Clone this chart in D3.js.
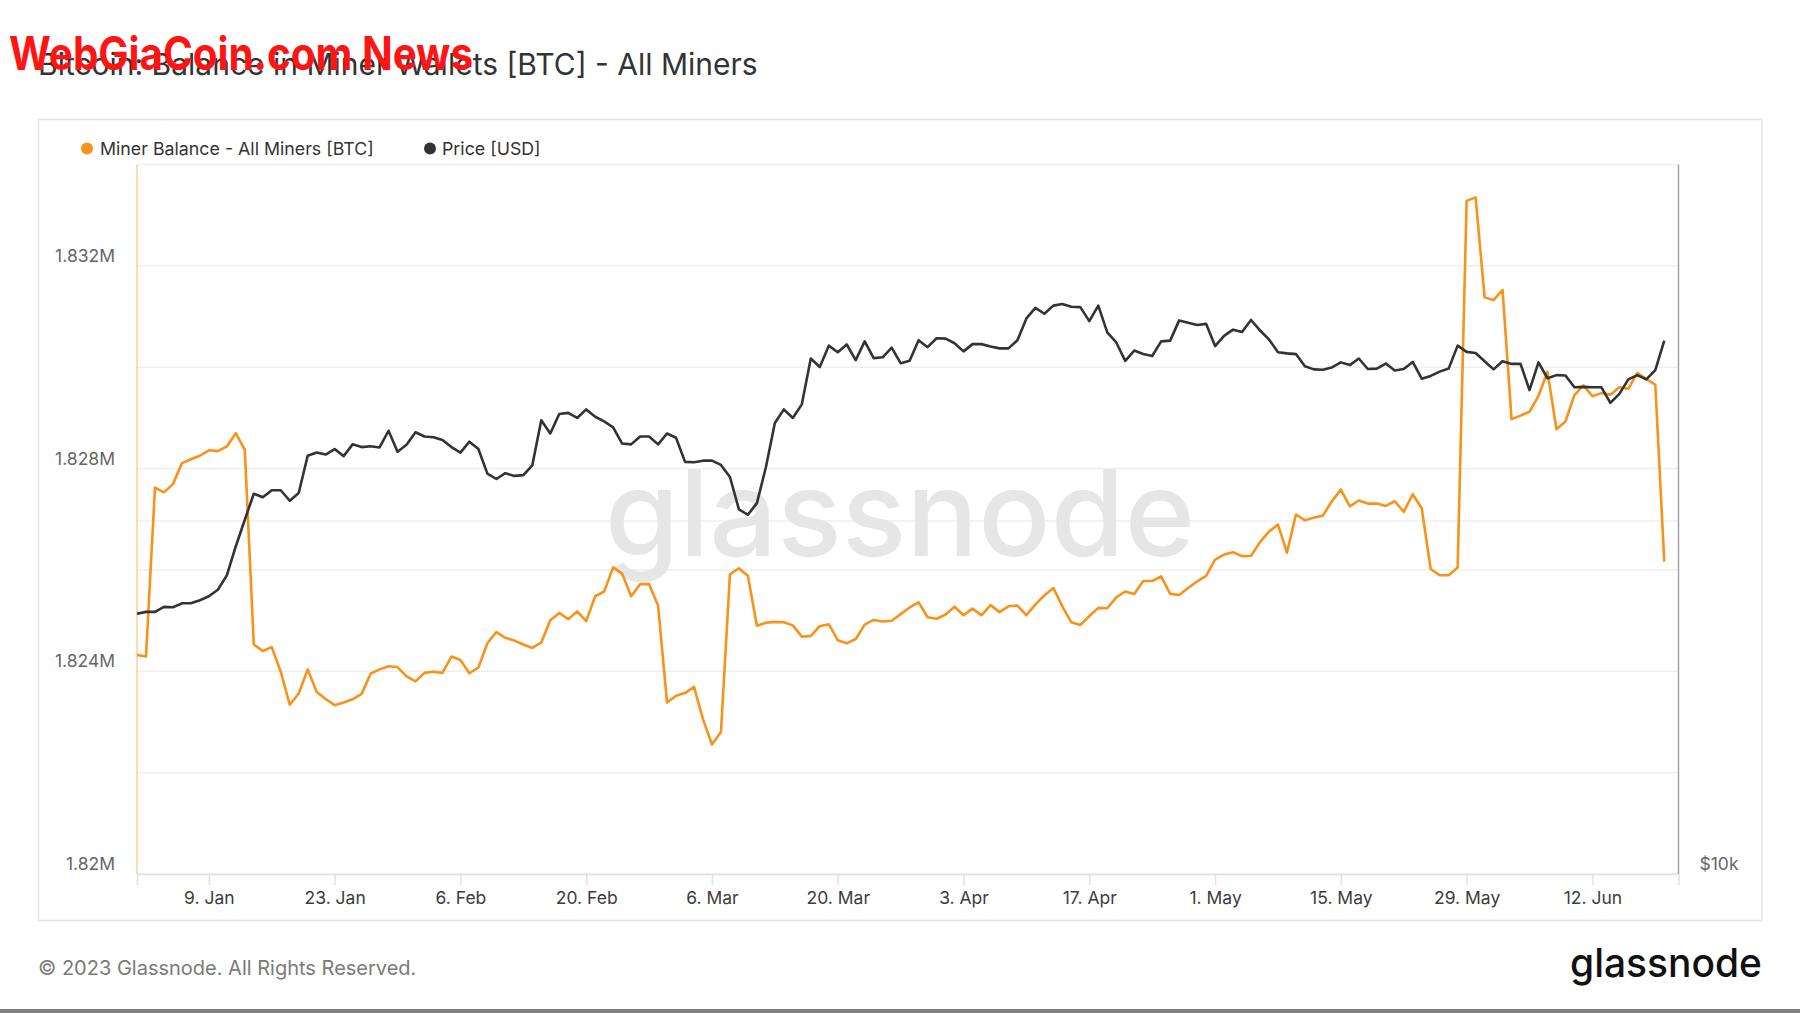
<!DOCTYPE html>
<html>
<head>
<meta charset="utf-8">
<script src="https://cdn.jsdelivr.net/npm/d3@7"></script>
<style>
  html, body { margin: 0; padding: 0; background: #fff; }
  svg { display: block; }
  text { font-family: Inter, "Open Sans", "DejaVu Sans", sans-serif; }
</style>
</head>
<body>
<svg id="chart" width="1800" height="1013"></svg>
<script>
// ---------------- DATA ----------------
const startDate = "2023-01-01"; // first daily observation
const minerBalance = [
  1824322,1824291,1827624,1827531,1827693,1828107,1828184,1828253,1828361,1828345,
  1828437,1828698,1828368,1824529,1824399,1824476,1823992,1823339,1823562,1824038,
  1823593,1823454,1823332,1823385,1823447,1823554,1823953,1824038,1824099,1824084,
  1823900,1823800,1823969,1823992,1823969,1824291,1824222,1823961,1824076,1824552,
  1824775,1824660,1824606,1824529,1824460,1824568,1825005,1825151,1825028,1825182,
  1824990,1825481,1825574,1826050,1825927,1825481,1825719,1825719,1825297,1823385,
  1823516,1823570,1823692,1823055,1822556,1822802,1825911,1826034,1825881,1824898,
  1824959,1824975,1824967,1824906,1824683,1824698,1824890,1824929,1824614,1824552,
  1824637,1824921,1825013,1824982,1824998,1825128,1825259,1825359,1825067,1825036,
  1825121,1825274,1825105,1825236,1825105,1825305,1825167,1825282,1825297,1825105,
  1825320,1825497,1825643,1825282,1824967,1824913,1825090,1825251,1825243,1825458,
  1825574,1825527,1825781,1825781,1825873,1825527,1825504,1825643,1825773,1825881,
  1826203,1826303,1826349,1826272,1826280,1826549,1826756,1826894,1826341,1827094,
  1826979,1827032,1827071,1827355,1827585,1827255,1827370,1827309,1827309,1827263,
  1827355,1827147,1827493,1827217,1826019,1825896,1825896,1826050,1833282,1833351,
  1831378,1831324,1831524,1828975,1829044,1829121,1829436,1829912,1828775,1828929,
  1829451,1829643,1829428,1829489,1829459,1829605,1829574,1829889,1829766,1829658,
  1826165
];
const priceUsd = [
  16666,16730,16730,16896,16884,17014,17014,17118,17250,17474,
  17974,19032,20046,21098,20954,21242,21242,20810,21130,22734,
  22874,22786,23032,22716,23246,23122,23158,23106,23876,22910,
  23228,23804,23606,23570,23444,23122,22874,23368,23032,21950,
  21718,21966,21850,21884,22310,24372,23748,24672,24728,24484,
  24898,24540,24316,24038,23282,23246,23606,23606,23246,23748,
  23552,22462,22444,22514,22514,22326,21802,20464,20245,20714,
  22222,24242,24898,24484,25146,27514,27056,28218,27854,28282,
  27430,28456,27536,27578,28110,27262,27388,28522,28132,28632,
  28610,28350,27902,28302,28302,28172,28066,28066,28522,29766,
  30386,30040,30526,30618,30454,30432,29608,30526,28960,28394,
  27388,27946,27754,27648,28456,28496,29652,29518,29384,29452,
  28194,28764,29118,28984,29676,29072,28566,27854,27792,27754,
  27098,26934,26914,27038,27306,27160,27514,26954,26974,27244,
  26872,26954,27328,26448,26590,26814,26974,28218,27876,27814,
  27370,26934,27370,27224,27224,25858,27306,26468,26632,26612,
  26002,26022,26002,26002,25222,25668,26408,26632,26408,26892,
  28496
];
const xTickDates = ["2023-01-09","2023-01-23","2023-02-06","2023-02-20","2023-03-06","2023-03-20",
                    "2023-04-03","2023-04-17","2023-05-01","2023-05-15","2023-05-29","2023-06-12"];
const xTickLabels = ["9. Jan","23. Jan","6. Feb","20. Feb","6. Mar","20. Mar",
                     "3. Apr","17. Apr","1. May","15. May","29. May","12. Jun"];
const leftGridValues = [1820000,1822000,1824000,1826000,1828000,1830000,1832000,1834000];
const leftTickValues = [1820000,1824000,1828000,1832000];
const leftTickLabels = ["1.82M","1.824M","1.828M","1.832M"];
const rightGridValues = [20000];
const rightTickValues = [10000];
const rightTickLabels = ["$10k"];
const seriesNames = ["Miner Balance - All Miners [BTC]", "Price [USD]"];
const titleText = "Bitcoin: Balance in Miner Wallets [BTC] - All Miners";
const footerText = "\u00A9 2023 Glassnode. All Rights Reserved.";
const overlayText = "WebGiaCoin.com News";

// ---------------- LAYOUT ----------------
const W = 1800, H = 1013;
const plot = { left: 137, right: 1678.5, top: 164.5, bottom: 874 };
const ORANGE = "#f7931a", DARK = "#333333";
const AXIS_FONT = 17.5;

const svg = d3.select("#chart");
svg.append("rect").attr("width", W).attr("height", H).attr("fill", "#fff");

const parse = d3.utcParse("%Y-%m-%d");
const t0 = parse(startDate);
const dates = minerBalance.map((_, i) => d3.utcDay.offset(t0, i));

const x = d3.scaleUtc()
  .domain([t0, new Date(Date.UTC(2023, 5, 21, 14))])
  .range([plot.left, plot.right]);
const yL = d3.scaleLinear().domain([1820000, 1834000]).range([plot.bottom, plot.top]);
const yR = d3.scaleLog().domain([10000, 40270]).range([plot.bottom, plot.top]);

// title
svg.append("text").attr("x", 38).attr("y", 75)
  .attr("font-size", 30).attr("fill", "#333").text(titleText);

// panel
svg.append("rect").attr("x", 38.5).attr("y", 119.5).attr("width", 1723.5).attr("height", 801)
  .attr("fill", "none").attr("stroke", "#e3e3e3").attr("stroke-width", 1.5);

// legend
const legend = svg.append("g");
const legendItems = [
  { name: seriesNames[0], color: ORANGE, cx: 87, tx: 100 },
  { name: seriesNames[1], color: DARK, cx: 430, tx: 442 }
];
legendItems.forEach(it => {
  legend.append("circle").attr("cx", it.cx).attr("cy", 148.5).attr("r", 6).attr("fill", it.color);
  legend.append("text").attr("x", it.tx).attr("y", 154.8).attr("font-size", 17.8)
    .attr("fill", "#333").text(it.name);
});

// gridlines
const grid = svg.append("g");
grid.selectAll("line.gl").data(leftGridValues).join("line")
  .attr("x1", plot.left).attr("x2", plot.right)
  .attr("y1", d => yL(d)).attr("y2", d => yL(d))
  .attr("stroke", "#efefef").attr("stroke-width", 1.5);
grid.selectAll("line.gr").data(rightGridValues).join("line")
  .attr("x1", plot.left).attr("x2", plot.right)
  .attr("y1", d => yR(d)).attr("y2", d => yR(d))
  .attr("stroke", "#efefef").attr("stroke-width", 1.5);

// watermark
svg.append("text").attr("x", 900).attr("y", 556).attr("text-anchor", "middle")
  .attr("font-size", 120).attr("font-weight", 500).attr("fill", "#e6e6e6")
  .attr("textLength", 590).attr("lengthAdjust", "spacingAndGlyphs")
  .text("glassnode");

// x axis
const xAxis = d3.axisBottom(x)
  .tickValues(xTickDates.map(parse))
  .tickFormat((d, i) => xTickLabels[i])
  .tickSize(11).tickPadding(7);
const gx = svg.append("g").attr("transform", `translate(0,${plot.bottom})`).call(xAxis);
gx.select(".domain").attr("stroke", "#e0e0e0").attr("stroke-width", 1.5);
gx.selectAll(".tick line").attr("stroke", "#e0e0e0").attr("stroke-width", 1.5);
gx.selectAll(".tick text").attr("font-size", AXIS_FONT).attr("fill", "#3c3c3c")
  .attr("font-family", "Inter, 'Open Sans', sans-serif");

// left axis
const yAxisL = d3.axisLeft(yL).tickValues(leftTickValues)
  .tickFormat((d, i) => leftTickLabels[i]).tickSize(0).tickPadding(22);
const gyl = svg.append("g").attr("transform", `translate(${plot.left},0)`).call(yAxisL);
gyl.select(".domain").remove();
gyl.selectAll(".tick text").attr("font-size", AXIS_FONT).attr("fill", "#666")
  .attr("dy", "-0.25em").attr("font-family", "Inter, 'Open Sans', sans-serif");

// right axis
const yAxisR = d3.axisRight(yR).tickValues(rightTickValues)
  .tickFormat((d, i) => rightTickLabels[i]).tickSize(0).tickPadding(21);
const gyr = svg.append("g").attr("transform", `translate(${plot.right},0)`).call(yAxisR);
gyr.select(".domain").remove();
gyr.selectAll(".tick text").attr("font-size", AXIS_FONT).attr("fill", "#666")
  .attr("dy", "-0.25em").attr("font-family", "Inter, 'Open Sans', sans-serif");

// axis lines
svg.append("line").attr("x1", plot.left).attr("x2", plot.left)
  .attr("y1", plot.top).attr("y2", plot.bottom)
  .attr("stroke", ORANGE).attr("stroke-opacity", 0.55).attr("stroke-width", 1.2);
svg.append("line").attr("x1", plot.right).attr("x2", plot.right)
  .attr("y1", plot.top).attr("y2", plot.bottom)
  .attr("stroke", "#a8a8a8").attr("stroke-width", 1.5);

// series
const lineL = d3.line().x((d, i) => x(dates[i])).y(d => yL(d));
const lineR = d3.line().x((d, i) => x(dates[i])).y(d => yR(d));
svg.append("path").datum(minerBalance).attr("d", lineL)
  .attr("fill", "none").attr("stroke", ORANGE).attr("stroke-width", 2.6)
  .attr("stroke-linejoin", "round");
svg.append("path").datum(priceUsd).attr("d", lineR)
  .attr("fill", "none").attr("stroke", DARK).attr("stroke-width", 2.6)
  .attr("stroke-linejoin", "round");

// footer
svg.append("text").attr("x", 38).attr("y", 975).attr("font-size", 20)
  .attr("fill", "#7a7a7a").text(footerText);
svg.append("text").attr("x", 1762).attr("y", 977).attr("text-anchor", "end")
  .attr("font-size", 40).attr("font-weight", 500).attr("fill", "#111")
  .attr("textLength", 192).attr("lengthAdjust", "spacingAndGlyphs")
  .text("glassnode");
svg.append("rect").attr("x", 0).attr("y", 1009).attr("width", W).attr("height", 4).attr("fill", "#808080");

// red overlay text (present in the reference image)
svg.append("text").attr("x", 9).attr("y", 70)
  .attr("font-family", "'Liberation Sans Narrow', 'DejaVu Sans Condensed', sans-serif")
  .attr("font-weight", 700).attr("font-size", 46).attr("fill", "#ff1414")
  .attr("textLength", 464).attr("lengthAdjust", "spacingAndGlyphs")
  .text(overlayText);
</script>
</body>
</html>
